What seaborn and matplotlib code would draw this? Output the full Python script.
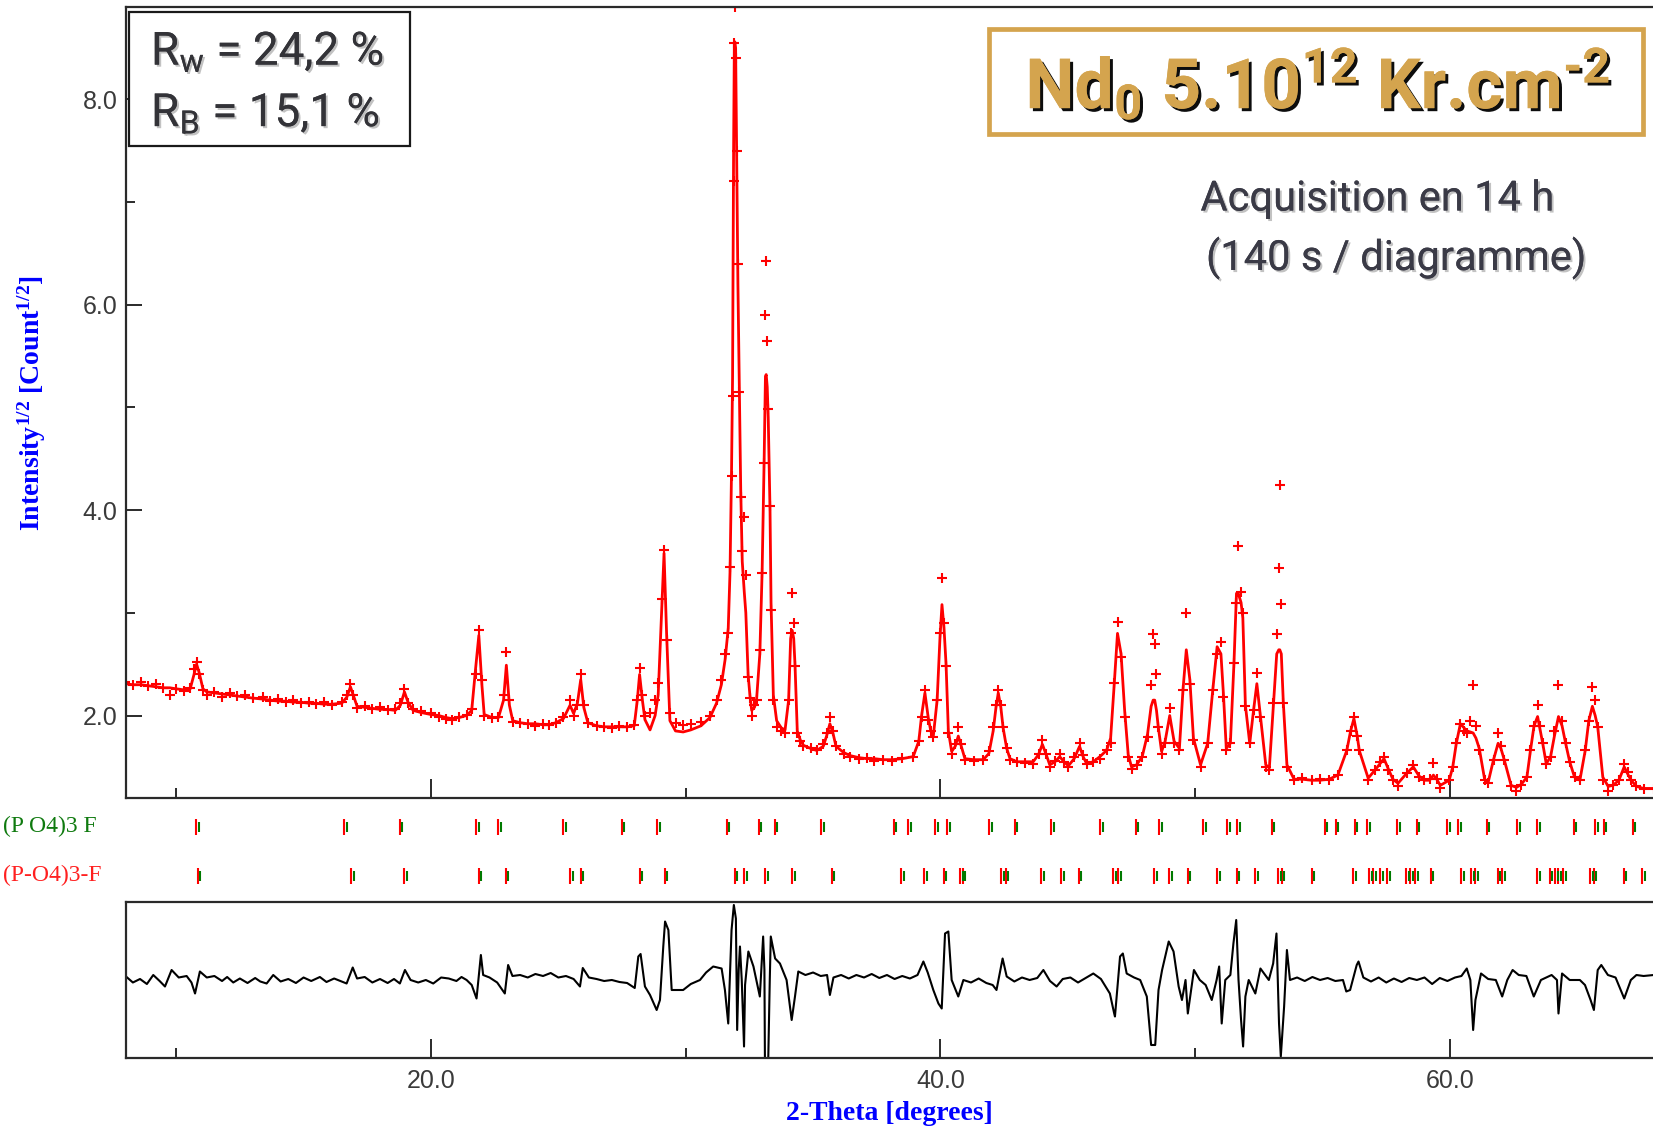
import matplotlib
matplotlib.use("Agg")
import matplotlib.pyplot as plt
import matplotlib.patheffects as pe
import matplotlib.transforms as mtransforms
from matplotlib.patches import Rectangle
from matplotlib.ticker import FormatStrFormatter
import pandas as pd
import seaborn as sns

# ---------------- data ----------------
two_theta = [8.00, 8.30, 8.62, 8.90, 9.20, 9.50, 9.75, 10.00, 10.30, 10.55, 10.70, 10.80, 10.90, 11.05,
             11.20, 11.50, 11.80, 12.10, 12.40, 12.70, 13.00, 13.40, 13.70, 14.00, 14.30, 14.60, 14.90,
             15.20, 15.50, 15.80, 16.10, 16.50, 16.70, 16.84, 16.95, 17.10, 17.40, 17.70, 18.00, 18.30,
             18.60, 18.80, 18.96, 19.10, 19.30, 19.60, 20.00, 20.30, 20.60, 20.82, 21.10, 21.40, 21.60,
             21.75, 21.88, 22.00, 22.09, 22.40, 22.65, 22.85, 22.96, 23.08, 23.21, 23.50, 23.80, 24.10,
             24.40, 24.62, 24.90, 25.20, 25.46, 25.60, 25.75, 25.88, 26.00, 26.16, 26.50, 26.80, 27.10,
             27.40, 27.70, 27.98, 28.10, 28.19, 28.30, 28.40, 28.60, 28.80, 28.92, 29.06, 29.15, 29.25,
             29.38, 29.60, 29.90, 30.20, 30.60, 30.95, 31.21, 31.40, 31.55, 31.67, 31.74, 31.80, 31.84,
             31.88, 31.91, 31.93, 31.96, 32.00, 32.05, 32.10, 32.16, 32.22, 32.30, 32.36, 32.45, 32.52,
             32.59, 32.70, 32.78, 32.91, 33.00, 33.08, 33.13, 33.16, 33.20, 33.24, 33.31, 33.35, 33.44,
             33.57, 33.75, 33.90, 34.04, 34.12, 34.18, 34.24, 34.29, 34.38, 34.50, 34.62, 34.90, 35.14,
             35.40, 35.53, 35.66, 35.78, 35.90, 36.20, 36.45, 36.80, 37.10, 37.40, 37.76, 38.10, 38.50,
             38.93, 39.15, 39.26, 39.39, 39.52, 39.62, 39.72, 39.87, 39.98, 40.06, 40.14, 40.22, 40.31,
             40.44, 40.58, 40.70, 40.82, 40.96, 41.30, 41.68, 41.90, 42.07, 42.18, 42.27, 42.37, 42.46,
             42.60, 42.73, 43.00, 43.30, 43.64, 43.85, 44.00, 44.15, 44.29, 44.50, 44.68, 44.85, 45.02,
             45.25, 45.46, 45.60, 45.74, 46.00, 46.26, 46.52, 46.68, 46.82, 46.95, 47.09, 47.23, 47.37,
             47.50, 47.70, 47.92, 48.13, 48.27, 48.35, 48.41, 48.48, 48.55, 48.68, 48.82, 49.00, 49.17,
             49.38, 49.52, 49.65, 49.79, 49.93, 50.21, 50.49, 50.69, 50.86, 51.01, 51.11, 51.22, 51.38,
             51.52, 51.62, 51.69, 51.80, 51.87, 51.97, 52.14, 52.29, 52.42, 52.56, 52.77, 52.91, 53.07,
             53.20, 53.28, 53.32, 53.38, 53.46, 53.60, 53.88, 54.20, 54.57, 54.90, 55.26, 55.60, 55.95,
             56.10, 56.23, 56.36, 56.44, 56.79, 57.06, 57.25, 57.41, 57.58, 57.76, 57.96, 58.31, 58.56,
             58.79, 59.00, 59.20, 59.35, 59.48, 59.62, 59.97, 60.11, 60.25, 60.41, 60.55, 60.66, 60.80,
             60.91, 61.02, 61.15, 61.36, 61.50, 61.71, 61.89, 62.00, 62.13, 62.40, 62.61, 62.80, 63.02,
             63.16, 63.30, 63.44, 63.55, 63.64, 63.78, 63.95, 64.10, 64.26, 64.40, 64.54, 64.70, 64.89,
             65.10, 65.31, 65.45, 65.59, 65.70, 65.80, 66.00, 66.21, 66.40, 66.63, 66.84, 67.00, 67.11,
             67.32, 67.60, 68.00]

y_obs = [2.33, 2.30, 2.33, 2.29, 2.31, 2.27, 2.20, 2.26, 2.24, 2.27, 2.45, 2.52, 2.40, 2.25,
         2.20, 2.23, 2.18, 2.22, 2.19, 2.20, 2.17, 2.18, 2.14, 2.16, 2.13, 2.15, 2.12,
         2.13, 2.11, 2.13, 2.10, 2.13, 2.20, 2.31, 2.20, 2.07, 2.09, 2.06, 2.08, 2.05,
         2.06, 2.12, 2.26, 2.12, 2.06, 2.04, 2.02, 1.99, 1.97, 1.96, 1.99, 2.01, 2.06,
         2.40, 2.83, 2.35, 2.00, 1.98, 1.99, 2.20, 2.62, 2.15, 1.94, 1.93, 1.92, 1.90,
         1.92, 1.91, 1.93, 1.99, 2.15, 2.00, 2.10, 2.40, 2.10, 1.93, 1.90, 1.89, 1.88,
         1.90, 1.89, 1.91, 2.15, 2.46, 2.20, 2.00, 2.02, 2.15, 2.32, 3.13, 3.61, 2.74,
         2.02, 1.93, 1.91, 1.92, 1.94, 2.00, 2.15, 2.35, 2.60, 2.80, 3.45, 4.33, 5.11,
         7.20, 8.55, 8.90, 8.40, 7.50, 6.40, 5.15, 4.13, 3.60, 3.93, 3.37, 2.38, 2.17,
         2.00, 2.10, 2.15, 2.64, 3.39, 4.46, 5.90, 6.43, 5.65, 4.98, 4.04, 3.03, 2.15,
         1.89, 1.85, 1.83, 2.15, 2.80, 3.19, 2.90, 2.48, 1.83, 1.75, 1.70, 1.68, 1.66,
         1.72, 1.83, 1.99, 1.85, 1.70, 1.63, 1.60, 1.58, 1.59, 1.56, 1.57, 1.56, 1.59,
         1.60, 1.75, 1.99, 2.25, 1.96, 1.85, 1.79, 2.15, 2.80, 3.34, 2.90, 2.48, 1.83,
         1.63, 1.72, 1.89, 1.72, 1.57, 1.56, 1.57, 1.65, 1.89, 2.10, 2.25, 2.10, 1.89,
         1.68, 1.57, 1.55, 1.54, 1.53, 1.63, 1.76, 1.63, 1.50, 1.56, 1.63, 1.55, 1.50,
         1.60, 1.73, 1.62, 1.53, 1.55, 1.58, 1.66, 1.73, 2.32, 2.91, 2.57, 1.99, 1.60,
         1.48, 1.52, 1.60, 1.79, 2.30, 2.79, 2.70, 2.40, 1.89, 1.63, 1.73, 2.07, 1.73,
         1.66, 2.25, 3.00, 2.31, 1.76, 1.50, 1.73, 2.25, 2.60, 2.72, 2.18, 1.66, 1.73,
         2.51, 3.10, 3.65, 3.20, 3.00, 2.09, 1.73, 2.05, 2.41, 1.99, 1.50, 1.47, 2.12,
         2.79, 3.44, 4.24, 3.09, 2.12, 1.50, 1.37, 1.39, 1.37, 1.38, 1.37, 1.42, 1.66,
         1.85, 1.99, 1.80, 1.66, 1.37, 1.47, 1.55, 1.60, 1.47, 1.37, 1.31, 1.44, 1.52,
         1.40, 1.37, 1.38, 1.54, 1.38, 1.29, 1.37, 1.50, 1.73, 1.92, 1.85, 1.83, 1.95,
         2.30, 1.90, 1.66, 1.37, 1.34, 1.57, 1.83, 1.70, 1.57, 1.31, 1.27, 1.32, 1.40,
         1.66, 1.90, 2.10, 1.90, 1.73, 1.53, 1.60, 1.85, 2.30, 1.95, 1.73, 1.55, 1.40,
         1.37, 1.66, 1.95, 2.28, 2.15, 1.89, 1.37, 1.27, 1.32, 1.37, 1.53, 1.45, 1.37,
         1.31, 1.28, 1.28]

y_calc = [2.31, 2.30, 2.30, 2.29, 2.28, 2.27, 2.27, 2.26, 2.25, 2.26, 2.40, 2.50, 2.42, 2.26,
          2.23, 2.22, 2.21, 2.20, 2.19, 2.18, 2.17, 2.16, 2.15, 2.14, 2.14, 2.13, 2.13,
          2.12, 2.12, 2.11, 2.11, 2.12, 2.18, 2.28, 2.20, 2.09, 2.08, 2.07, 2.06, 2.06,
          2.05, 2.10, 2.23, 2.13, 2.05, 2.03, 2.01, 2.00, 1.98, 1.97, 1.98, 2.00, 2.05,
          2.45, 2.78, 2.30, 2.01, 1.98, 1.98, 2.15, 2.49, 2.10, 1.95, 1.93, 1.92, 1.92,
          1.91, 1.91, 1.93, 1.97, 2.10, 2.02, 2.12, 2.35, 2.08, 1.93, 1.90, 1.89, 1.89,
          1.89, 1.89, 1.90, 2.15, 2.40, 2.15, 1.96, 1.86, 2.00, 2.20, 3.05, 3.58, 2.80,
          1.95, 1.85, 1.84, 1.86, 1.90, 1.98, 2.12, 2.30, 2.55, 2.85, 3.40, 4.40, 5.30,
          7.50, 8.56, 8.56, 8.50, 7.50, 6.20, 5.30, 4.20, 3.50, 3.20, 3.00, 2.40, 2.20,
          2.05, 2.08, 2.15, 2.60, 3.40, 4.50, 5.30, 5.32, 5.20, 4.90, 4.00, 3.10, 2.20,
          1.95, 1.88, 1.86, 2.15, 2.75, 2.83, 2.75, 2.50, 1.85, 1.76, 1.71, 1.68, 1.66,
          1.70, 1.80, 1.92, 1.83, 1.70, 1.64, 1.61, 1.59, 1.58, 1.58, 1.57, 1.57, 1.58,
          1.60, 1.75, 2.00, 2.22, 1.98, 1.85, 1.80, 2.15, 2.75, 3.08, 2.85, 2.50, 1.85,
          1.65, 1.70, 1.80, 1.70, 1.58, 1.57, 1.57, 1.63, 1.85, 2.08, 2.22, 2.08, 1.88,
          1.68, 1.58, 1.55, 1.55, 1.55, 1.62, 1.72, 1.62, 1.52, 1.55, 1.60, 1.55, 1.51,
          1.58, 1.70, 1.60, 1.53, 1.55, 1.60, 1.66, 1.78, 2.30, 2.80, 2.60, 2.05, 1.62,
          1.50, 1.52, 1.60, 1.82, 2.09, 2.15, 2.15, 2.05, 1.89, 1.65, 1.75, 2.00, 1.75,
          1.68, 2.25, 2.64, 2.35, 1.78, 1.52, 1.73, 2.25, 2.67, 2.60, 2.20, 1.68, 1.73,
          2.50, 3.19, 3.19, 3.10, 2.95, 2.10, 1.73, 2.05, 2.31, 1.99, 1.52, 1.49, 2.10,
          2.60, 2.64, 2.64, 2.60, 2.12, 1.52, 1.38, 1.38, 1.37, 1.37, 1.38, 1.42, 1.66,
          1.85, 1.97, 1.80, 1.66, 1.39, 1.47, 1.53, 1.58, 1.48, 1.38, 1.34, 1.44, 1.50,
          1.41, 1.37, 1.37, 1.42, 1.38, 1.32, 1.37, 1.50, 1.73, 1.92, 1.88, 1.85, 1.84,
          1.83, 1.78, 1.68, 1.38, 1.35, 1.57, 1.73, 1.68, 1.57, 1.32, 1.30, 1.33, 1.40,
          1.66, 1.90, 1.99, 1.85, 1.73, 1.53, 1.60, 1.80, 1.99, 1.90, 1.73, 1.55, 1.40,
          1.37, 1.66, 1.95, 2.09, 2.00, 1.89, 1.40, 1.31, 1.32, 1.37, 1.50, 1.42, 1.37,
          1.31, 1.29, 1.29]

diff_theta = [8.03, 8.30, 8.58, 8.85, 9.10, 9.35, 9.56, 9.82, 10.10, 10.41, 10.60, 10.74, 10.93, 11.20,
              11.50, 11.80, 12.00, 12.24, 12.50, 12.80, 13.10, 13.30, 13.55, 13.81, 14.10, 14.40, 14.70,
              15.00, 15.30, 15.64, 15.90, 16.20, 16.50, 16.69, 16.93, 17.10, 17.40, 17.70, 18.00, 18.30,
              18.55, 18.78, 18.98, 19.20, 19.50, 19.80, 20.09, 20.40, 20.70, 21.00, 21.20, 21.40, 21.60,
              21.79, 21.96, 22.05, 22.30, 22.60, 22.90, 23.03, 23.20, 23.50, 23.80, 24.10, 24.40, 24.70,
              25.00, 25.30, 25.60, 25.85, 25.96, 26.20, 26.50, 26.80, 27.10, 27.40, 27.70, 28.00, 28.14,
              28.23, 28.40, 28.60, 28.86, 28.99, 29.12, 29.19, 29.32, 29.45, 29.90, 30.20, 30.56, 30.80,
              31.08, 31.41, 31.54, 31.67, 31.80, 31.89, 31.97, 32.02, 32.08, 32.13, 32.20, 32.29, 32.33,
              32.46, 32.66, 32.91, 33.04, 33.09, 33.11, 33.24, 33.30, 33.34, 33.51, 33.70, 33.96, 34.09,
              34.16, 34.29, 34.42, 34.70, 35.00, 35.30, 35.55, 35.66, 35.80, 36.10, 36.40, 36.70, 37.00,
              37.30, 37.60, 37.90, 38.20, 38.50, 38.80, 39.10, 39.33, 39.50, 39.72, 39.92, 40.05, 40.18,
              40.31, 40.44, 40.70, 40.90, 41.20, 41.50, 41.80, 42.05, 42.20, 42.44, 42.60, 42.90, 43.20,
              43.50, 43.80, 44.04, 44.30, 44.56, 44.80, 45.10, 45.40, 45.70, 46.00, 46.30, 46.65, 46.82,
              46.85, 47.05, 47.16, 47.31, 47.60, 47.84, 48.10, 48.27, 48.43, 48.56, 48.70, 48.96, 49.15,
              49.35, 49.48, 49.62, 49.71, 49.95, 50.18, 50.41, 50.65, 50.84, 50.94, 51.04, 51.18, 51.38,
              51.50, 51.61, 51.70, 51.80, 51.88, 51.97, 52.10, 52.36, 52.56, 52.89, 53.06, 53.19, 53.29,
              53.36, 53.49, 53.60, 53.72, 54.00, 54.30, 54.60, 54.90, 55.20, 55.50, 55.80, 55.93, 56.08,
              56.34, 56.41, 56.60, 56.90, 57.20, 57.50, 57.80, 58.10, 58.40, 58.70, 59.00, 59.30, 59.60,
              59.90, 60.20, 60.45, 60.66, 60.80, 60.91, 61.00, 61.22, 61.50, 61.80, 62.05, 62.25, 62.46,
              62.70, 63.00, 63.29, 63.57, 63.99, 64.20, 64.26, 64.40, 64.70, 65.10, 65.30, 65.52, 65.65,
              65.80, 65.94, 66.20, 66.50, 66.84, 67.10, 67.32, 67.60, 68.00]

y_diff = [0.07, -0.05, 0.02, -0.08, 0.10, -0.02, -0.13, 0.20, 0.05, 0.08, -0.05, -0.27, 0.17, 0.05,
          0.08, -0.02, 0.06, -0.05, 0.03, -0.06, 0.04, -0.03, -0.07, 0.10, -0.03, 0.02, -0.06,
          0.05, -0.02, 0.06, -0.04, 0.03, -0.03, -0.07, 0.25, 0.03, 0.06, -0.05, 0.02, -0.06,
          0.02, -0.07, 0.20, 0.00, -0.05, 0.00, -0.07, 0.05, 0.03, -0.02, 0.06, 0.00, -0.10,
          -0.37, 0.50, 0.10, 0.05, -0.05, -0.27, 0.30, 0.08, 0.10, 0.05, 0.12, 0.08, 0.14,
          0.05, 0.08, 0.02, -0.13, 0.24, 0.05, 0.02, -0.02, 0.00, -0.04, -0.06, -0.16, 0.47,
          0.52, -0.13, -0.30, -0.60, -0.40, 0.67, 1.17, 1.00, -0.20, -0.20, -0.08, 0.00, 0.15,
          0.27, 0.23, -0.20, -0.87, 1.00, 1.50, 1.23, -1.00, 0.20, 0.67, 0.00, -1.33, -0.10,
          0.57, 0.27, -0.33, 0.87, 0.20, -1.60, -1.60, 0.00, 0.87, 0.43, 0.33, 0.00, -0.53,
          -0.80, -0.33, 0.17, 0.10, 0.15, 0.08, 0.10, -0.30, 0.05, 0.10, 0.03, 0.10, 0.05,
          0.12, 0.04, 0.10, 0.02, 0.08, 0.03, 0.10, 0.37, 0.15, -0.20, -0.47, -0.57, 0.93,
          0.97, 0.00, -0.33, 0.00, -0.05, 0.03, -0.06, -0.10, -0.20, 0.43, 0.07, -0.03, 0.05,
          0.00, 0.04, 0.20, -0.02, -0.13, 0.02, 0.05, -0.05, 0.04, 0.13, 0.02, -0.27, -0.67,
          -0.73, 0.47, 0.53, 0.13, 0.05, 0.00, -0.33, -1.30, -1.30, -0.20, 0.20, 0.77, 0.57,
          -0.13, -0.40, 0.00, -0.67, 0.20, 0.00, -0.10, -0.40, 0.00, 0.27, -0.87, 0.00, 0.10,
          0.73, 1.20, 0.00, -0.80, -1.33, -0.33, 0.00, -0.27, 0.23, 0.00, 0.33, 0.93, -0.87,
          -1.53, -0.53, 0.60, 0.00, 0.05, -0.02, 0.06, 0.00, 0.04, -0.02, 0.00, -0.23, -0.20,
          0.30, 0.37, 0.05, -0.03, 0.05, -0.05, 0.03, -0.04, 0.04, 0.00, 0.05, -0.08, 0.04,
          -0.02, 0.05, 0.08, 0.23, 0.00, -1.00, -0.40, 0.13, 0.02, 0.00, -0.33, 0.00, 0.20,
          0.10, 0.08, -0.33, 0.00, 0.10, 0.00, -0.67, 0.13, 0.00, 0.00, -0.10, -0.40, -0.60,
          0.20, 0.30, 0.10, 0.05, -0.37, 0.00, 0.10, 0.08, 0.10]

# Bragg positions, upper row (phase labelled in green) and lower row (phase labelled in red)
bragg_upper = [10.79, 16.60, 18.77, 21.77, 22.65, 25.18, 27.49, 28.89, 31.61, 32.86, 33.49, 35.31,
               38.17, 38.73, 39.80, 40.27, 41.91, 42.91, 44.34, 46.26, 47.66, 48.59, 50.32, 51.26,
               51.66, 53.01, 55.08, 55.51, 56.26, 56.75, 57.94, 58.70, 59.90, 60.32, 61.45, 62.64,
               63.43, 64.86, 65.69, 66.03, 67.17]
bragg_lower = [10.85, 16.88, 18.96, 21.88, 22.93, 25.46, 25.88, 28.19, 29.17, 31.93, 32.29, 33.13,
               34.19, 35.73, 38.45, 39.36, 40.13, 40.77, 40.88, 42.38, 42.56, 43.96, 44.73, 45.43,
               46.77, 46.98, 48.38, 48.99, 49.70, 50.86, 51.63, 52.35, 53.25, 53.39, 54.57, 56.20,
               56.82, 56.99, 57.27, 57.54, 58.28, 58.45, 58.63, 59.25, 60.45, 60.84, 60.98, 61.87,
               62.05, 63.43, 63.91, 64.12, 64.26, 64.44, 65.50, 65.65, 66.82, 67.54]

phase_upper_label = "(P O4)3 F"
phase_lower_label = "(P-O4)3-F"
x_major_ticks = [20, 40, 60]
x_minor_ticks = [10, 30, 50]
y_major_ticks = [2, 4, 6, 8]
y_minor_ticks = [3, 5, 7]

title_text = "Nd$_0$ 5.10$^{12}$ Kr.cm$^{\u2010 2}$"
rw_text = r"R$_\mathregular{w}$ = 24,2 %"
rb_text = r"R$_\mathregular{B}$ = 15,1 %"
acq_line1 = "Acquisition en 14 h"
acq_line2 = "(140 s / diagramme)"

# ---------------- style ----------------
sns.set_theme(style="white")
plt.rcParams["font.family"] = ["Liberation Sans", "DejaVu Sans"]
plt.rcParams["mathtext.default"] = "regular"

W, H = 1653, 1127
fig = plt.figure(figsize=(W / 100, H / 100), dpi=100)
fig.patch.set_facecolor("white")

def fx(px):
    return px / W

def fy(py):
    return 1 - py / H

left = fx(126)
ax = fig.add_axes([left, fy(798), 1 - left, fy(7) - fy(798)])
ax_t = fig.add_axes([left, fy(902), 1 - left, fy(798) - fy(902)], sharex=ax)
ax_d = fig.add_axes([left, fy(1058), 1 - left, fy(902) - fy(1058)], sharex=ax)

RED = "#ff0000"
GREEN = "#007a00"
SPINE = "#2a2a2a"

df = pd.DataFrame({"two_theta": two_theta, "obs": y_obs, "calc": y_calc})
dfd = pd.DataFrame({"two_theta": diff_theta, "diff": y_diff})

# calculated profile (line) and observed points (crosses)
sns.lineplot(data=df, x="two_theta", y="calc", ax=ax, color=RED, lw=2.0, sort=False,
             estimator=None)
sns.lineplot(data=df, x="two_theta", y="obs", ax=ax, color=RED, lw=0, sort=False,
             estimator=None, marker="+", markersize=7, markeredgewidth=1.5, markeredgecolor=RED)

# difference curve
sns.lineplot(data=dfd, x="two_theta", y="diff", ax=ax_d, color="black", lw=1.5, sort=False,
             estimator=None)

# Bragg ticks
ka2 = mtransforms.offset_copy(ax_t.transData, fig=fig, x=2.6, y=0, units="dots")
row_up, row_lo = 0.721, 0.250
ax_t.vlines(bragg_upper, row_up - 0.08, row_up + 0.08, color=RED, lw=1.5)
ax_t.vlines(bragg_upper, row_up - 0.047, row_up + 0.047, color=GREEN, lw=1.5, transform=ka2)
ax_t.vlines(bragg_lower, row_lo - 0.08, row_lo + 0.08, color=RED, lw=1.5)
ax_t.vlines(bragg_lower, row_lo - 0.047, row_lo + 0.047, color=GREEN, lw=1.5, transform=ka2)
ax_t.set_ylim(0, 1)

# ---------------- axes cosmetics ----------------
x0, x1 = 8.03, 67.97
ax.set_xlim(x0, x1)
ax.set_ylim(1.197, 8.899)
ax_d.set_ylim(-1.56, 1.56)

for a in (ax, ax_d):
    a.set_facecolor("white")
    for s in ("left", "top", "bottom"):
        a.spines[s].set_visible(True)
        a.spines[s].set_color(SPINE)
        a.spines[s].set_linewidth(1.6)
    a.spines["right"].set_visible(False)
    a.set_xlabel("")
    a.set_ylabel("")
    a.xaxis.set_major_locator(plt.FixedLocator(x_major_ticks))
    a.xaxis.set_minor_locator(plt.FixedLocator(x_minor_ticks))
    a.tick_params(axis="x", which="major", direction="in", length=13.5, width=1.4,
                  color=SPINE, bottom=True, top=False)
    a.tick_params(axis="x", which="minor", direction="in", length=7, width=1.4,
                  color=SPINE, bottom=True, top=False)

ax.yaxis.set_major_locator(plt.FixedLocator(y_major_ticks))
ax.yaxis.set_minor_locator(plt.FixedLocator(y_minor_ticks))
ax.yaxis.set_major_formatter(FormatStrFormatter("%.1f"))
ax.tick_params(axis="y", which="major", direction="in", length=11.5, width=1.4, color=SPINE,
               left=True, right=False, labelsize=18, labelcolor="#3a3a3a", pad=6)
ax.tick_params(axis="y", which="minor", direction="in", length=6.5, width=1.4, color=SPINE,
               left=True, right=False)
ax.tick_params(axis="x", labelbottom=False)

ax_d.set_yticks([])
ax_d.xaxis.set_major_formatter(FormatStrFormatter("%.1f"))
ax_d.tick_params(axis="x", labelsize=18, labelcolor="#3a3a3a", pad=8)

ax_t.axis("off")

# axis titles
serif = ["Liberation Serif", "DejaVu Serif"]
fig.text(fx(31.6), fy(403), r"Intensity$^{1/2}$ [Count$^{1/2}$]", rotation=90, ha="center",
         va="center", color="#0000ff", fontsize=20, fontweight="bold", family=serif)
fig.text(fx(889), fy(1113), "2-Theta [degrees]", ha="center", va="center", color="#0000ff",
         fontsize=20, fontweight="bold", family=serif)

# phase labels
fig.text(fx(97), fy(826.5), phase_upper_label, ha="right", va="center", color="#0f7a0f",
         fontsize=17, family=serif)
fig.text(fx(102), fy(875.5), phase_lower_label, ha="right", va="center", color="#ff2020",
         fontsize=17, family=serif)

# R-factor box
fig.patches.append(Rectangle((fx(128.5), fy(145.5)), fx(409.5) - fx(128.5), fy(11.5) - fy(145.5),
                             transform=fig.transFigure, fill=True, facecolor="white",
                             edgecolor="#1a1a1a", lw=1.6, zorder=5))
soft_shadow = [pe.withSimplePatchShadow(offset=(1.5, -1.5), shadow_rgbFace="#9a9a9a", alpha=0.6),
               pe.Normal()]
for txt, yb in ((rw_text, 65), (rb_text, 126.5)):
    fig.text(fx(151), fy(yb), txt, ha="left", va="baseline", color="#333338", fontsize=33,
             family=["Roboto", "DejaVu Sans"], zorder=6, path_effects=soft_shadow)

# title box
gold = "#d4a44e"
fig.patches.append(Rectangle((fx(989), fy(134)), fx(1642.5) - fx(989), fy(29.5) - fy(134),
                             transform=fig.transFigure, fill=False, edgecolor=gold, lw=3.4,
                             zorder=5))
fig.text(fx(1318), fy(108.5), title_text, ha="center", va="baseline", color=gold, fontsize=50,
         fontweight="bold", family=["Roboto", "DejaVu Sans"], zorder=6,
         path_effects=[pe.withSimplePatchShadow(offset=(2.2, -2.2), shadow_rgbFace="black",
                                                alpha=0.95), pe.Normal()])

fig.text(fx(1377), fy(210.5), acq_line1, ha="center", va="baseline", color="#3a3a46",
         fontsize=30, family=["Roboto", "DejaVu Sans"], path_effects=soft_shadow)
fig.text(fx(1396), fy(270), acq_line2, ha="center", va="baseline", color="#3a3a46",
         fontsize=30, family=["Roboto", "DejaVu Sans"], path_effects=soft_shadow)

fig.savefig("out.png", dpi=100, facecolor="white")
